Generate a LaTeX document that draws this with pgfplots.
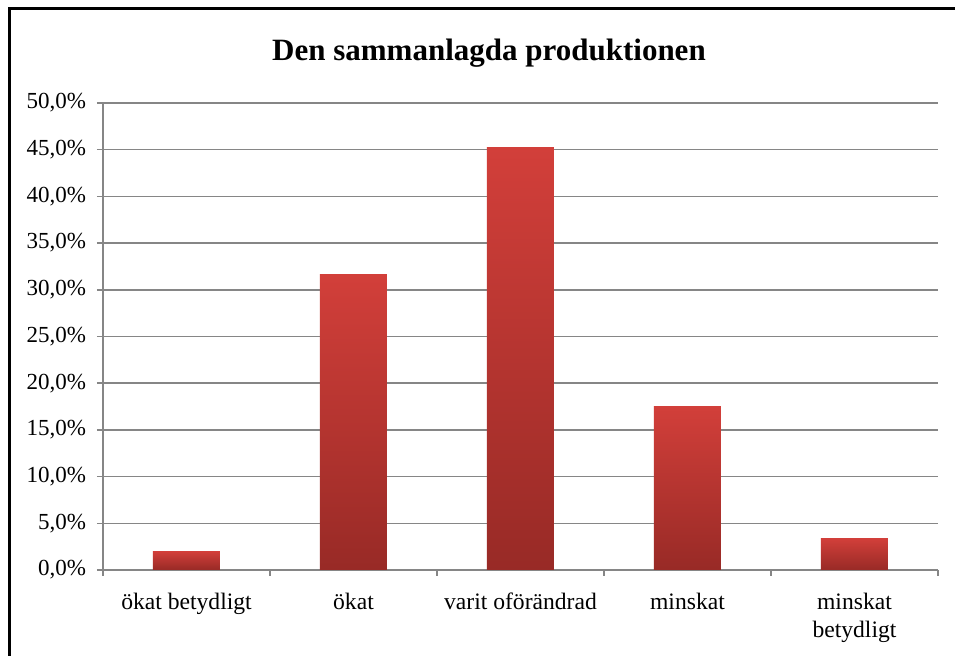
\documentclass[border=0pt]{standalone}
\usepackage{pgfplots}
\pgfplotsset{compat=1.18}
\usepackage{fontspec}
\setmainfont{Liberation Serif}
\definecolor{bartop}{RGB}{210,63,58}
\definecolor{barbot}{RGB}{152,42,38}
\definecolor{gridc}{RGB}{134,134,134}
\pgfplotsset{redbar/.style={ybar, bar width=33.5pt, bar shift=0pt, draw=none, top color=bartop, bottom color=barbot}}
\begin{document}
\begin{tikzpicture}[x=0.5pt,y=0.5pt]
\path[use as bounding box] (0,0) rectangle (955,656);
\draw[line width=1.5pt,black] (9,0) -- (9,647) -- (955,647);
\node[font=\bfseries\fontsize{15.5}{18}\selectfont] at (489,603) {Den sammanlagda produktionen};
\begin{axis}[
  at={(51.5pt,43pt)}, anchor=south west,
  width=417.5pt, height=233.5pt, scale only axis,
  xmin=-0.5, xmax=4.5, ymin=0, ymax=50,
  ytick={0,5,...,50},
  xtick={0,...,4},
  xticklabels={ökat betydligt, ökat, varit oförändrad, minskat, {minskat\\betydligt}},
  major x tick style={draw=none},
  minor xtick={-0.5,0.5,...,4.5},
  ymajorgrids, grid style={gridc, line width=0.75pt},
  axis x line*=bottom, axis y line*=left,
  axis line style={gridc, line width=0.75pt},
  tick style={gridc, line width=0.75pt},
  tick align=outside,
  major tick length=3pt, minor tick length=3pt,
  /pgf/number format/assume math mode=true,
  yticklabel={\pgfmathprintnumber[fixed,fixed zerofill,precision=1,use comma]{\tick}\%},
  tick label style={font=\fontsize{11.5}{12.5}\selectfont, black},
  x tick label style={font=\fontsize{11.8}{14}\selectfont, align=center, yshift=-5pt},
  y tick label style={xshift=-2pt},
]
\addplot[redbar] coordinates {(0,2.0)};
\addplot[redbar] coordinates {(1,31.6)};
\addplot[redbar] coordinates {(2,45.2)};
\addplot[redbar] coordinates {(3,17.5)};
\addplot[redbar] coordinates {(4,3.4)};
\end{axis}
\end{tikzpicture}
\end{document}
